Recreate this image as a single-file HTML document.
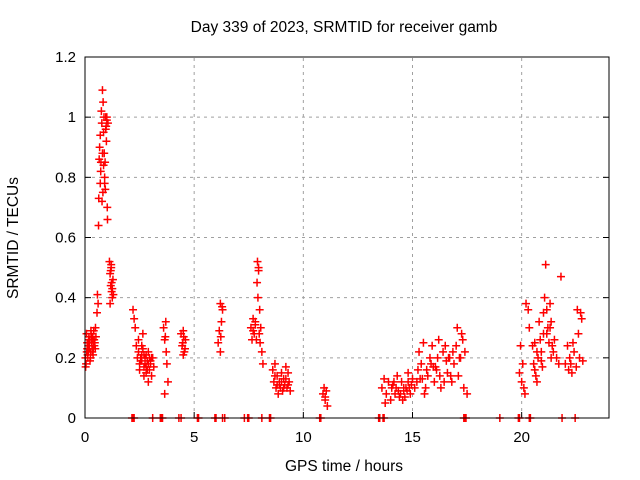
<!DOCTYPE html>
<html><head><meta charset="utf-8"><style>
body{margin:0;background:#fff}
svg{display:block;font-family:"Liberation Sans",sans-serif}
</style></head><body>
<svg id="chart" width="640" height="480">
<rect width="640" height="480" fill="#fff"/>
<text x="344" y="32" font-size="15.5" text-anchor="middle">Day 339 of 2023, SRMTID for receiver gamb</text>
<text x="344" y="471" font-size="15.5" text-anchor="middle">GPS time / hours</text>
<text x="18" y="238" font-size="15.5" text-anchor="middle" transform="rotate(-90 18 238)">SRMTID / TECUs</text>
<g id="grid"></g><g id="axes"></g><g id="marks"></g>
<rect x="85" y="57" width="524" height="361" fill="none" stroke="#000"/>
</svg>
<script>
const xTicks=[0,5,10,15,20];
const yTicks=[0,0.2,0.4,0.6,0.8,1,1.2];
const yTickLabels=["0","0.2","0.4","0.6","0.8","1","1.2"];
const times=[0.02,0.05,0.08,0.1,0.12,0.15,0.18,0.2,0.22,0.25,0.28,0.3,0.32,0.35,0.38,0.4,0.42,0.45,0.48,0.5,0.03,0.13,0.23,0.33,0.43,0.07,0.17,0.27,0.37,0.47,0.1,0.2,0.3,0.4,0.15,0.25,0.35,
0.55,0.57,0.6,0.62,0.65,0.67,0.7,0.72,0.75,0.77,0.8,0.82,0.85,0.87,0.9,0.92,0.95,0.97,1.0,1.02,1.05,0.7,0.78,0.88,0.98,1.03,0.63,0.73,0.83,0.93,0.8,0.85,0.9,0.95,1.0,
1.12,1.15,1.18,1.2,1.22,1.25,1.28,1.3,1.15,1.2,1.25,1.18,1.22,
2.2,2.25,2.3,2.35,2.4,2.45,2.5,2.55,2.6,2.65,2.7,2.75,2.8,2.85,2.9,2.95,3.0,3.05,3.1,3.15,2.5,2.6,2.7,2.8,2.9,3.0,2.45,2.65,2.85,2.55,2.75,2.95,2.6,2.7,2.8,2.9,3.05,
3.6,3.65,3.7,3.75,3.8,3.65,3.72,3.68,
4.4,4.45,4.5,4.55,4.6,4.5,4.52,4.48,4.58,
6.1,6.15,6.2,6.25,6.3,6.2,6.22,6.28,
7.6,7.65,7.7,7.75,7.8,7.85,7.9,7.95,8.0,8.05,8.1,8.15,7.88,7.92,7.98,8.02,7.7,7.8,7.95,
8.6,8.65,8.7,8.75,8.8,8.85,8.9,8.95,9.0,9.05,9.1,9.15,9.2,9.25,9.3,9.35,9.4,8.7,8.9,9.2,8.8,9.0,9.1,9.3,
10.9,10.95,11.0,11.05,11.1,11.0,10.95,
13.6,13.7,13.8,13.9,14.0,14.1,14.2,14.3,14.4,14.5,14.6,14.7,14.8,14.9,15.0,13.75,14.05,14.35,14.65,14.95,14.15,14.55,14.85,14.25,14.45,14.75,14.1,14.4,14.6,14.8,
15.1,15.2,15.3,15.4,15.5,15.6,15.7,15.8,15.9,16.0,16.1,16.2,16.3,16.4,16.5,16.6,16.7,16.8,16.9,17.0,17.1,17.2,17.3,17.4,17.5,15.25,15.55,15.85,16.15,16.45,16.75,17.05,17.35,15.35,16.05,16.65,17.25,17.15,15.45,15.65,15.95,16.25,16.55,16.85,17.2,
19.9,19.95,20.0,20.05,20.1,20.15,20.2,20.3,20.35,20.5,20.55,20.6,20.65,20.7,20.75,20.8,20.85,20.9,20.95,21.0,21.05,21.1,21.15,21.2,21.25,21.3,21.35,21.4,21.5,21.6,21.7,21.8,21.15,21.2,21.35,20.6,20.7,20.9,21.0,21.3,21.45,
22.0,22.1,22.2,22.3,22.4,22.5,22.6,22.7,22.75,22.8,22.15,22.35,22.55,22.65,22.25,22.45,
2.15,2.2,2.25,3.1,3.45,3.5,3.55,4.3,4.4,5.15,5.2,5.95,6.0,6.3,6.4,7.3,7.45,7.5,8.1,8.45,8.5,10.75,10.8,13.45,13.5,13.65,13.7,17.35,17.4,17.45,19.0,19.85,19.9,20.35,20.4,21.85,21.9];
const values=[0.2,0.18,0.22,0.25,0.21,0.24,0.27,0.23,0.26,0.22,0.28,0.25,0.24,0.27,0.23,0.29,0.26,0.25,0.3,0.27,0.17,0.2,0.19,0.22,0.24,0.28,0.26,0.29,0.21,0.23,0.23,0.25,0.27,0.24,0.22,0.2,0.26,
0.35,0.41,0.38,0.64,0.86,0.9,0.94,0.82,1.02,0.98,1.09,0.75,0.95,1.0,0.8,0.85,1.0,0.97,0.99,0.7,0.98,0.78,0.72,0.88,0.92,0.66,0.73,0.85,1.05,0.76,0.88,0.84,0.78,0.96,1.0,
0.52,0.48,0.44,0.5,0.42,0.4,0.46,0.41,0.38,0.51,0.43,0.49,0.45,
0.36,0.33,0.3,0.24,0.2,0.22,0.18,0.19,0.21,0.23,0.17,0.2,0.15,0.19,0.22,0.16,0.18,0.14,0.2,0.17,0.16,0.24,0.14,0.21,0.12,0.19,0.26,0.28,0.16,0.2,0.18,0.2,0.19,0.21,0.17,0.18,0.2,
0.3,0.26,0.32,0.18,0.12,0.08,0.22,0.27,
0.28,0.24,0.29,0.22,0.26,0.21,0.27,0.25,0.23,
0.25,0.29,0.38,0.32,0.36,0.22,0.27,0.37,
0.3,0.26,0.33,0.28,0.32,0.26,0.52,0.5,0.36,0.3,0.22,0.18,0.45,0.4,0.28,0.25,0.29,0.31,0.49,
0.16,0.12,0.18,0.1,0.14,0.08,0.12,0.1,0.15,0.09,0.13,0.11,0.17,0.1,0.15,0.12,0.09,0.14,0.11,0.13,0.11,0.12,0.1,0.11,
0.08,0.1,0.06,0.09,0.04,0.07,0.1,
0.1,0.13,0.08,0.12,0.06,0.11,0.08,0.14,0.07,0.12,0.09,0.1,0.15,0.08,0.13,0.05,0.1,0.09,0.07,0.11,0.12,0.06,0.1,0.1,0.08,0.09,0.11,0.07,0.1,0.12,
0.1,0.12,0.22,0.18,0.25,0.1,0.14,0.2,0.24,0.12,0.16,0.26,0.1,0.22,0.24,0.15,0.2,0.12,0.18,0.24,0.14,0.2,0.26,0.22,0.08,0.16,0.08,0.18,0.2,0.12,0.14,0.3,0.1,0.13,0.17,0.2,0.28,0.2,0.13,0.16,0.17,0.14,0.19,0.22,
0.2,0.15,0.24,0.12,0.18,0.1,0.08,0.38,0.36,0.3,0.24,0.18,0.25,0.14,0.12,0.2,0.32,0.26,0.22,0.17,0.35,0.4,0.51,0.28,0.3,0.25,0.38,0.32,0.24,0.26,0.2,0.18,0.47,0.36,0.3,0.2,0.16,0.22,0.19,0.28,0.3,
0.22,0.18,0.24,0.2,0.15,0.22,0.17,0.28,0.35,0.33,0.19,0.16,0.25,0.36,0.2,0.18,
0,0,0,0,0,0,0,0,0,0,0,0,0,0,0,0,0,0,0,0,0,0,0,0,0,0,0,0,0,0,0,0,0,0,0,0,0];
const X0=85,X1=609,Y0=418,Y1=57,XMAX=24,YMAX=1.2;
function xs(t){return X0+(X1-X0)*t/XMAX;}
function ys(v){return Y0-(Y0-Y1)*v/YMAX;}
const NS="http://www.w3.org/2000/svg";
const grid=document.getElementById('grid'),axes=document.getElementById('axes'),marks=document.getElementById('marks');
function mk(tag,at,parent){const e=document.createElementNS(NS,tag);for(const k in at)e.setAttribute(k,at[k]);parent.appendChild(e);return e;}
xTicks.forEach((t,i)=>{const x=xs(t);
 if(t>0){const g=mk('line',{x1:x,x2:x,y1:Y0,y2:Y1,stroke:'#a0a0a0','stroke-dasharray':'3,4'},grid);
 
 }
 const tk=mk('line',{x1:x,x2:x,y1:Y0,y2:Y0-6,stroke:'#000'},axes);
 
 
 const tx=mk('text',{x:x,y:Y0+24,'font-size':15,'text-anchor':'middle'},axes);tx.textContent=String(t);
 
 
});
yTicks.forEach((v,i)=>{const y=ys(v);
 if(v>0&&v<YMAX){const g=mk('line',{x1:X0,x2:X1,y1:y,y2:y,stroke:'#a0a0a0','stroke-dasharray':'3,4'},grid);
 
 }
 const tk=mk('line',{x1:X0,x2:X0+6,y1:y,y2:y,stroke:'#000'},axes);
 
 
 const tk2=mk('line',{x1:X1,x2:X1-6,y1:y,y2:y,stroke:'#000'},axes);
 
 
 const tx=mk('text',{x:X0-9,y:y+5,'font-size':15,'text-anchor':'end'},axes);tx.textContent=yTickLabels[i];
 
 
});
let d='';
times.forEach((t,i)=>{const x=xs(t),y=ys(values[i]);d+=`M${x-4} ${y}h8M${x} ${y-4}v8`;});
const p=mk('path',{d:d,stroke:'#ff0000','stroke-width':1.5,fill:'none'},marks);


</script>
</body></html>
